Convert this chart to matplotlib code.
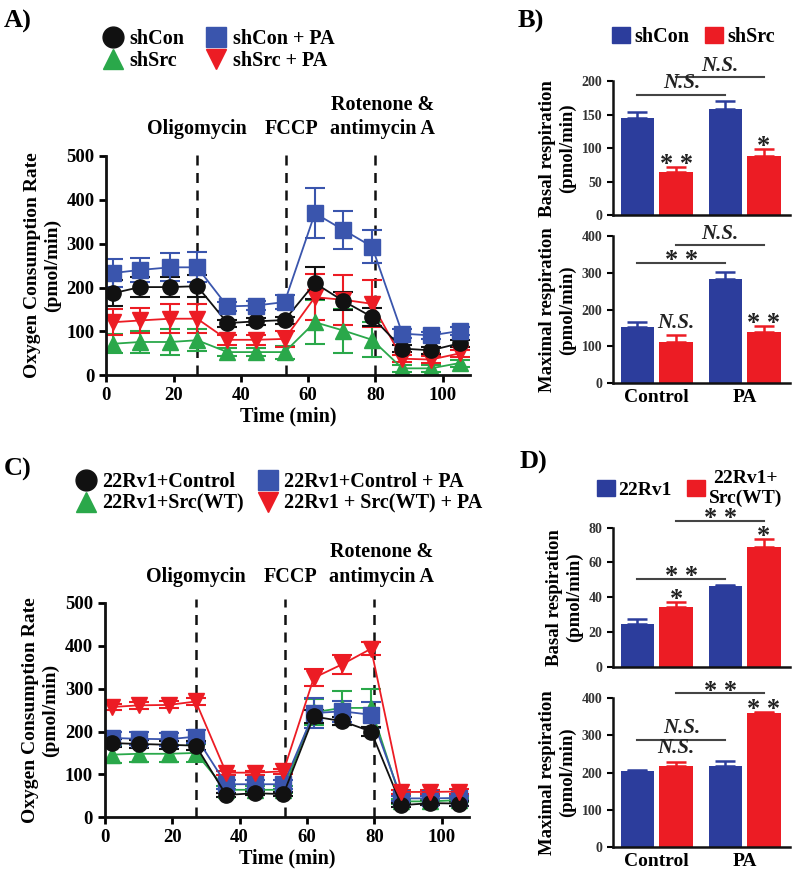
import matplotlib
matplotlib.use('Agg')
import matplotlib.pyplot as plt
from matplotlib.lines import Line2D
from matplotlib.patches import Patch
import numpy as np

plt.rcParams['font.family'] = ['Liberation Serif', 'DejaVu Serif']
plt.rcParams['font.weight'] = 'bold'
plt.rcParams['axes.labelweight'] = 'bold'

# ---- Seahorse time course data ----
time_min = [2, 10, 19, 27, 36, 44.5, 53, 62, 70.5, 79, 88, 96.5, 105]
injections = [27, 53.5, 80]

a_shcon = [187, 201, 201, 203, 119, 123, 126, 210, 169, 133, 61, 57, 73]
a_shcon_err = [30, 22, 22, 25, 8, 8, 8, 36, 20, 20, 8, 8, 8]
a_shcon_pa = [233, 240, 246, 246, 157, 159, 167, 369, 331, 293, 95, 91, 101]
a_shcon_pa_err = [32, 28, 32, 34, 10, 10, 15, 57, 44, 38, 10, 8, 8]
a_shsrc = [72, 76, 76, 80, 53, 53, 53, 121, 102, 81, 16, 16, 28]
a_shsrc_err = [22, 25, 30, 25, 10, 10, 15, 50, 50, 40, 8, 8, 8]
a_shsrc_pa = [121, 125, 129, 129, 81, 81, 83, 178, 172, 163, 38, 36, 50]
a_shsrc_pa_err = [30, 28, 33, 33, 12, 12, 18, 53, 57, 53, 8, 8, 8]

c_ctrl = [173, 171, 169, 167, 52, 56, 54, 235, 224, 200, 28, 33, 32]
c_ctrl_err = [10, 10, 10, 10, 5, 5, 5, 15, 10, 10, 5, 5, 5]
c_ctrl_pa = [185, 183, 182, 188, 77, 77, 77, 243, 247, 239, 44, 44, 45]
c_ctrl_pa_err = [15, 15, 15, 15, 10, 10, 10, 35, 25, 30, 5, 5, 5]
c_src = [146, 148, 148, 150, 64, 64, 64, 245, 255, 255, 37, 37, 40]
c_src_err = [20, 20, 20, 20, 8, 8, 8, 30, 40, 45, 5, 5, 5]
c_src_pa = [257, 261, 262, 270, 104, 104, 107, 325, 357, 393, 59, 59, 60]
c_src_pa_err = [8, 8, 8, 8, 5, 5, 5, 20, 22, 15, 5, 5, 5]

# ---- bar data ----
groups = ['Control', 'PA']
b_basal_shcon = [146, 158]
b_basal_shcon_err = [8, 13]
b_basal_shsrc = [64, 89]
b_basal_shsrc_err = [8, 10]
b_max_shcon = [153, 285]
b_max_shcon_err = [13, 18]
b_max_shsrc = [112, 139]
b_max_shsrc_err = [20, 18]
d_basal_22rv1 = [24.6, 46.4]
d_basal_22rv1_err = [2.6, 0.6]
d_basal_src = [34.2, 69.1]
d_basal_src_err = [3.2, 4.4]
d_max_22rv1 = [204, 217.5]
d_max_22rv1_err = [4, 14]
d_max_src = [217.5, 359.5]
d_max_src_err = [11, 3]

BLACK = '#111111'
LBLUE = '#3a55ad'
GREEN = '#2aa84a'
RED = '#ec1c24'
BBLUE = '#2c3d9c'
SIG = '#444444'

fig = plt.figure(figsize=(8, 8.75), dpi=100)


def style_axes(ax, lw=2.0):
    for s in ['top', 'right']:
        ax.spines[s].set_visible(False)
    for s in ['left', 'bottom']:
        ax.spines[s].set_linewidth(lw)
        ax.spines[s].set_color(BLACK)


def ocr_panel(ax, series):
    for y, err, color, marker in series:
        ax.errorbar(time_min, y, yerr=err, color=color, marker=marker, ms=11,
                    lw=1.3, elinewidth=1.5, capsize=7, capthick=1.5)
    for x in injections:
        ax.plot([x, x], [0, 510], color=BLACK, lw=1.8, ls=(0, (4, 3)),
                clip_on=False, zorder=0.5)
    ax.set_xlim(0, 108)
    ax.set_ylim(0, 500)
    ax.set_xticks([0, 20, 40, 60, 80, 100])
    ax.set_yticks([0, 100, 200, 300, 400, 500])
    ax.tick_params(labelsize=13.5, width=2, length=5)
    ax.set_xlabel('Time (min)', fontsize=14.5, labelpad=2)
    ax.set_ylabel('Oxygen Consumption Rate\n(pmol/min)', fontsize=14, labelpad=4)
    style_axes(ax)
    ax.text(27, 538, 'Oligomycin', ha='center', va='bottom', fontsize=14.5)
    ax.text(55, 538, 'FCCP', ha='center', va='bottom', fontsize=14.5)
    ax.text(82, 538, 'Rotenone &\nantimycin A', ha='center', va='bottom',
            fontsize=14.5, linespacing=1.3)


def bar_panel(ax, v1, e1, v2, e2, ymax, ystep, ylabel, show_x):
    x = np.arange(len(groups))
    off, w = 0.22, 0.38
    ax.bar(x - off, v1, w, color=BBLUE, zorder=2)
    ax.bar(x + off, v2, w, color=RED, zorder=2)
    ax.errorbar(x - off, v1, yerr=[np.zeros(2), e1], fmt='none', ecolor=BBLUE,
                elinewidth=1.8, capsize=7, capthick=1.8, zorder=1)
    ax.errorbar(x + off, v2, yerr=[np.zeros(2), e2], fmt='none', ecolor=RED,
                elinewidth=1.8, capsize=7, capthick=1.8, zorder=1)
    ax.set_xlim(-0.5, 1.52)
    ax.set_ylim(0, ymax)
    ax.set_yticks(np.arange(0, ymax + 1, ystep))
    ax.tick_params(axis='y', labelsize=10, width=1.5, length=4, labelcolor='#333333')
    if show_x:
        ax.set_xticks(x)
        ax.set_xticklabels(groups, fontsize=14)
        ax.tick_params(axis='x', length=0, pad=4)
    else:
        ax.set_xticks([])
    ax.set_ylabel(ylabel, fontsize=13.5, labelpad=4)
    style_axes(ax, lw=1.8)


def sig_line(ax, x0, x1, y, label, italic=False):
    ax.plot([x0, x1], [y, y], color=SIG, lw=1.5, clip_on=False)
    sig_text(ax, (x0 + x1) / 2, y, label, italic)


def sig_text(ax, x, y, label, italic=False):
    if italic:
        ax.annotate(label, (x, y), xytext=(0, 1), textcoords='offset points',
                    ha='center', va='bottom', fontsize=15, style='italic',
                    color='#222222', annotation_clip=False)
    else:
        ax.annotate(label, (x, y), xytext=(0, -3), textcoords='offset points',
                    ha='center', va='baseline', fontsize=19, color='#222222',
                    annotation_clip=False)


# ---- panel A ----
axA = fig.add_axes([0.133, 0.571, 0.454, 0.251])
ocr_panel(axA, [
    (a_shsrc, a_shsrc_err, GREEN, '^'),
    (a_shsrc_pa, a_shsrc_pa_err, RED, 'v'),
    (a_shcon, a_shcon_err, BLACK, 'o'),
    (a_shcon_pa, a_shcon_pa_err, LBLUE, 's'),
])
hA = [Line2D([], [], ls='none', marker='o', color=BLACK, ms=15),
      Line2D([], [], ls='none', marker='^', color=GREEN, ms=15),
      Line2D([], [], ls='none', marker='s', color=LBLUE, ms=15),
      Line2D([], [], ls='none', marker='v', color=RED, ms=15)]
fig.legend(hA, ['shCon', 'shSrc', 'shCon + PA', 'shSrc + PA'], ncol=2,
           loc='center', bbox_to_anchor=(0.272, 0.943), frameon=False,
           fontsize=14.5, handletextpad=0.2, columnspacing=1.0,
           labelspacing=0.1, handlelength=1.2)

# ---- panel C ----
axC = fig.add_axes([0.131, 0.066, 0.455, 0.245])
ocr_panel(axC, [
    (c_src, c_src_err, GREEN, '^'),
    (c_ctrl_pa, c_ctrl_pa_err, LBLUE, 's'),
    (c_ctrl, c_ctrl_err, BLACK, 'o'),
    (c_src_pa, c_src_pa_err, RED, 'v'),
])
hC = [Line2D([], [], ls='none', marker='o', color=BLACK, ms=15),
      Line2D([], [], ls='none', marker='^', color=GREEN, ms=15),
      Line2D([], [], ls='none', marker='s', color=LBLUE, ms=15),
      Line2D([], [], ls='none', marker='v', color=RED, ms=15)]
fig.legend(hC, ['22Rv1+Control', '22Rv1+Src(WT)', '22Rv1+Control + PA',
                '22Rv1 + Src(WT) + PA'], ncol=2,
           loc='center', bbox_to_anchor=(0.348, 0.437), frameon=False,
           fontsize=14.5, handletextpad=0.2, columnspacing=0.6,
           labelspacing=0.1, handlelength=1.2)

# ---- panel B ----
axB1 = fig.add_axes([0.766, 0.754, 0.222, 0.153])
bar_panel(axB1, b_basal_shcon, b_basal_shcon_err, b_basal_shsrc, b_basal_shsrc_err,
          200, 50, 'Basal respiration\n(pmol/min)', False)
sig_text(axB1, 0.22, 64 + 8, '* *')
sig_text(axB1, 1.22, 89 + 10, '*')
sig_line(axB1, -0.22, 0.78, 180, 'N.S.', italic=True)
sig_line(axB1, 0.22, 1.22, 206, 'N.S.', italic=True)

axB2 = fig.add_axes([0.766, 0.562, 0.222, 0.168])
bar_panel(axB2, b_max_shcon, b_max_shcon_err, b_max_shsrc, b_max_shsrc_err,
          400, 100, 'Maximal respiration\n(pmol/min)', True)
sig_text(axB2, 0.22, 112 + 20, 'N.S.', italic=True)
sig_text(axB2, 1.22, 139 + 18, '* *')
sig_line(axB2, -0.22, 0.78, 327, '* *')
sig_line(axB2, 0.22, 1.22, 375, 'N.S.', italic=True)

fig.legend([Patch(color=BBLUE), Patch(color=RED)], ['shCon', 'shSrc'], ncol=2,
           loc='center', bbox_to_anchor=(0.867, 0.958), frameon=False,
           fontsize=14.5, handletextpad=0.2, columnspacing=0.8,
           handlelength=0.9, handleheight=0.9)

# ---- panel D ----
axD1 = fig.add_axes([0.766, 0.238, 0.222, 0.159])
bar_panel(axD1, d_basal_22rv1, d_basal_22rv1_err, d_basal_src, d_basal_src_err,
          80, 20, 'Basal respiration\n(pmol/min)', False)
sig_text(axD1, 0.22, 34.2 + 3.2, '*')
sig_text(axD1, 1.22, 69.1 + 4.4, '*')
sig_line(axD1, -0.22, 0.78, 50.3, '* *')
sig_line(axD1, 0.22, 1.22, 83.9, '* *')

axD2 = fig.add_axes([0.766, 0.032, 0.222, 0.170])
bar_panel(axD2, d_max_22rv1, d_max_22rv1_err, d_max_src, d_max_src_err,
          400, 100, 'Maximal respiration\n(pmol/min)', True)
sig_text(axD2, 0.22, 217.5 + 11 + 6, 'N.S.', italic=True)
sig_text(axD2, 1.22, 359.5 + 3, '* *')
sig_line(axD2, -0.22, 0.78, 289, 'N.S.', italic=True)
sig_line(axD2, 0.22, 1.22, 413, '* *')

legD = fig.legend([Patch(color=BBLUE), Patch(color=RED)], ['22Rv1', '22Rv1+\nSrc(WT)'],
                  ncol=2, loc='center', bbox_to_anchor=(0.862, 0.442), frameon=False,
                  fontsize=14, handletextpad=0.2, columnspacing=0.8,
                  handlelength=0.9, handleheight=0.9)
for t in legD.get_texts():
    t.set_multialignment('center')

# ---- panel letters ----
fig.text(0.005, 0.975, 'A)', fontsize=19, va='center')
fig.text(0.647, 0.975, 'B)', fontsize=19, va='center')
fig.text(0.005, 0.463, 'C)', fontsize=19, va='center')
fig.text(0.65, 0.472, 'D)', fontsize=19, va='center')

fig.savefig('out.png', dpi=100)
